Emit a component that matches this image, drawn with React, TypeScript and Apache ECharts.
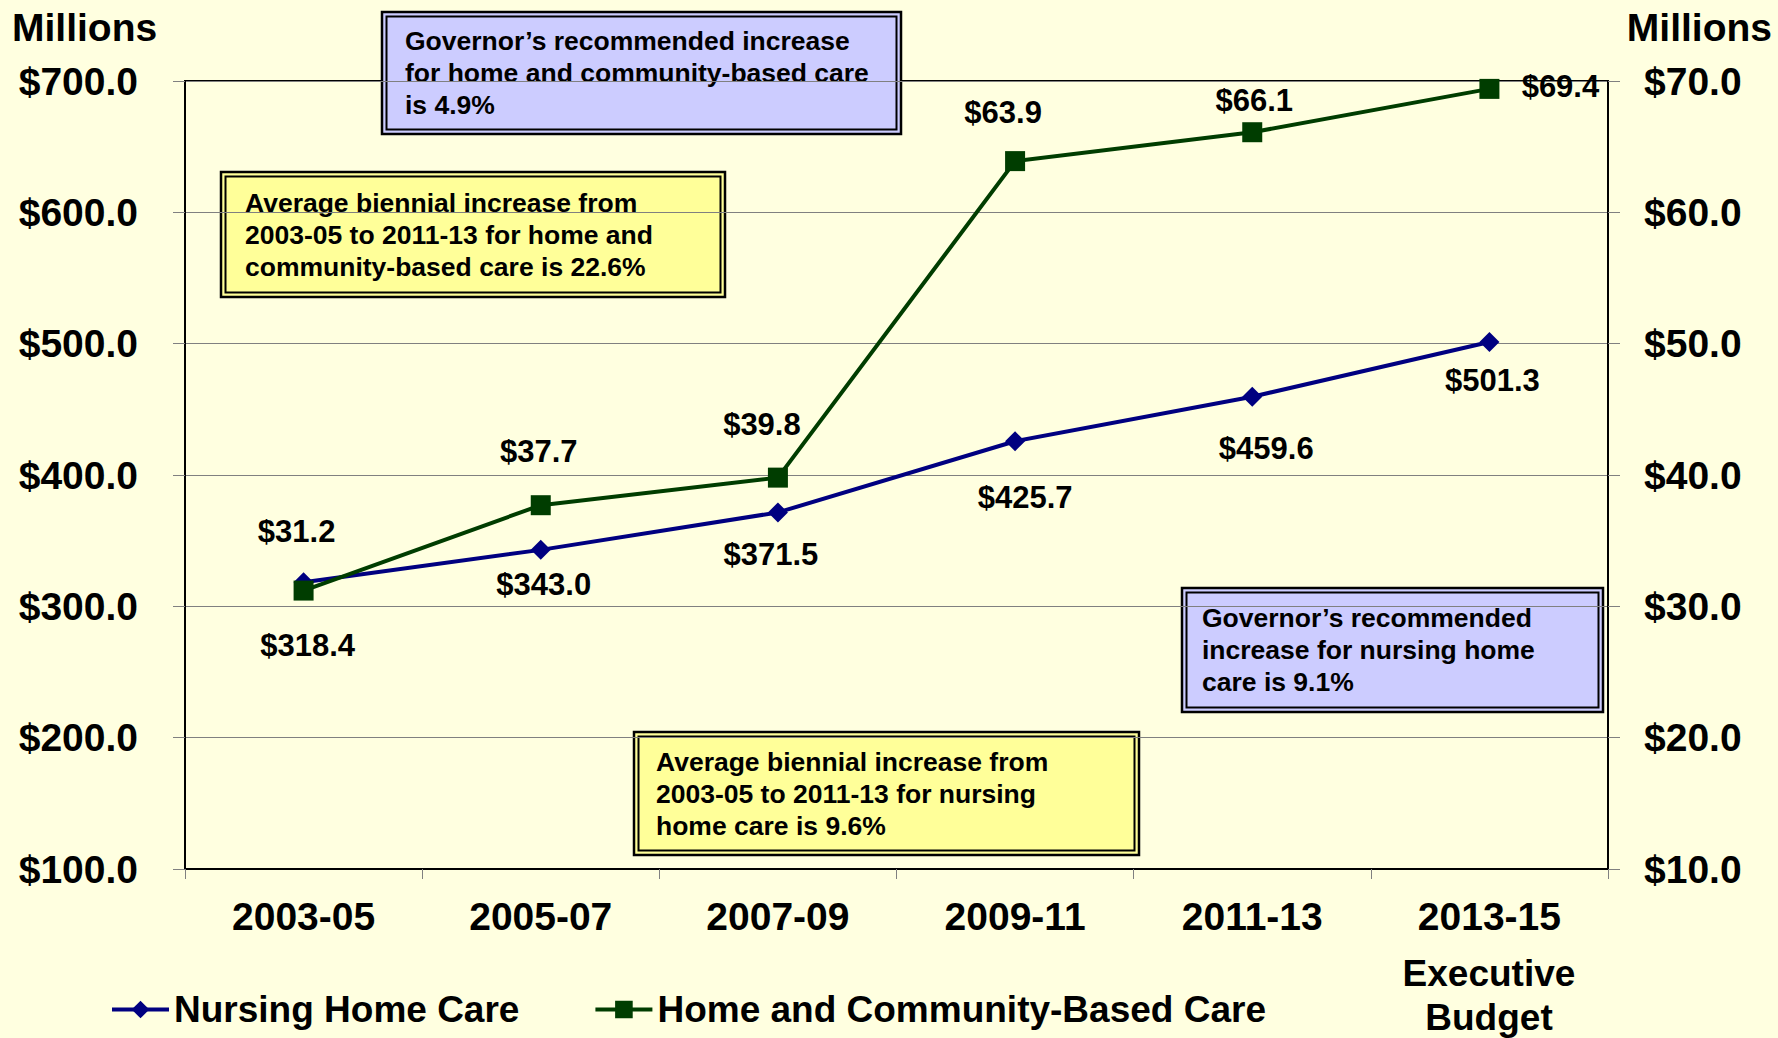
import React, { useEffect, useRef } from "react";
import * as echarts from "echarts";

const categories = ["2003-05", "2005-07", "2007-09", "2009-11", "2011-13", "2013-15"];
const nursingHome = [318.4, 343.0, 371.5, 425.7, 459.6, 501.3];
const communityBased = [31.2, 37.7, 39.8, 63.9, 66.1, 69.4];
const leftAxis = { min: 100, max: 700, interval: 100 };
const rightAxis = { min: 10, max: 70, interval: 10 };

const nursingLabelOffsets = [[4, 63], [3, 35], [-7, 42], [10, 56], [14, 52], [3, 39]];
const communityLabelOffsets = [[-7, -59], [-2, -54], [-16, -53], [-12, -49], [2, -32], [71, -2]];

const FONT = '"Liberation Sans", Arial, sans-serif';
const BG = "#FFFFE0";
const NAVY = "#000080";
const GREEN = "#003D00";

const money = (v: number) => "$" + Number(v).toFixed(1);

function box(x: number, y: number, w: number, h: number, fill: string, lines: string[], tx: number, ty: number) {
  return {
    type: "group",
    z: 50,
    children: [
      { type: "rect", shape: { x, y, width: w, height: h }, style: { fill, stroke: "#000", lineWidth: 2.5 } },
      { type: "rect", shape: { x: x + 4.5, y: y + 4.5, width: w - 9, height: h - 9 }, style: { fill: "none", stroke: "#000", lineWidth: 2 } },
      {
        type: "text",
        x: tx,
        y: ty - 16,
        style: {
          text: lines.join("\n"),
          fill: "#000",
          fontSize: 26.5,
          fontWeight: "bold",
          fontFamily: FONT,
          lineHeight: 32,
          align: "left",
          verticalAlign: "top",
        },
      },
    ],
  };
}

export default function App() {
  const ref = useRef<HTMLDivElement>(null);
  useEffect(() => {
    if (!ref.current) return;
    const chart = echarts.init(ref.current, null, { renderer: "svg" });
    const labelBase = {
      show: true,
      position: "inside",
      formatter: (p: any) => money(p.value),
      fontSize: 31,
      fontWeight: "bold",
      fontFamily: FONT,
      color: "#000",
    };
    chart.setOption({
      animation: false,
      backgroundColor: BG,
      textStyle: { fontFamily: FONT },
      grid: {
        left: 185,
        right: 170,
        top: 81,
        bottom: 169,
        show: true,
        borderColor: "#000",
        borderWidth: 2,
        backgroundColor: "transparent",
      },
      legend: {
        left: 105,
        top: 986,
        itemWidth: 57,
        itemHeight: 22,
        itemGap: 74,
        lineStyle: { width: 4 },
        textStyle: { fontSize: 37, fontWeight: "bold", color: "#000", fontFamily: FONT },
        data: ["Nursing Home Care", "Home and Community-Based Care"],
      },
      xAxis: {
        type: "category",
        data: categories,
        boundaryGap: true,
        axisLine: { show: true, lineStyle: { color: "#000", width: 2 } },
        axisTick: { show: true, length: 10, lineStyle: { color: "#808080", width: 1 } },
        axisLabel: { fontSize: 39, fontWeight: "bold", color: "#000", fontFamily: FONT, margin: 28 },
      },
      yAxis: [
        {
          type: "value",
          position: "left",
          ...leftAxis,
          axisLine: { show: true, lineStyle: { color: "#000", width: 2 } },
          axisTick: { show: true, length: 12, lineStyle: { color: "#808080", width: 1 } },
          splitLine: { show: true, lineStyle: { color: "#808080", width: 1 } },
          axisLabel: { formatter: money, fontSize: 39, fontWeight: "bold", color: "#000", fontFamily: FONT, margin: 47 },
        },
        {
          type: "value",
          position: "right",
          ...rightAxis,
          axisLine: { show: true, lineStyle: { color: "#000", width: 2 } },
          axisTick: { show: true, length: 12, lineStyle: { color: "#808080", width: 1 } },
          splitLine: { show: false },
          axisLabel: { formatter: money, fontSize: 39, fontWeight: "bold", color: "#000", fontFamily: FONT, margin: 36 },
        },
      ],
      series: [
        {
          name: "Nursing Home Care",
          type: "line",
          yAxisIndex: 0,
          symbol: "diamond",
          symbolSize: 20,
          lineStyle: { color: NAVY, width: 4 },
          itemStyle: { color: NAVY },
          label: labelBase,
          data: nursingHome.map((v, i) => ({ value: v, label: { offset: nursingLabelOffsets[i] } })),
        },
        {
          name: "Home and Community-Based Care",
          type: "line",
          yAxisIndex: 1,
          symbol: "rect",
          symbolSize: 20,
          lineStyle: { color: GREEN, width: 4 },
          itemStyle: { color: GREEN },
          label: labelBase,
          data: communityBased.map((v, i) => ({ value: v, label: { offset: communityLabelOffsets[i] } })),
        },
      ],
      graphic: [
        {
          type: "text",
          x: 12,
          y: 27,
          style: { text: "Millions", fontSize: 39, fontWeight: "bold", fontFamily: FONT, fill: "#000", align: "left", verticalAlign: "middle" },
        },
        {
          type: "text",
          x: 1772,
          y: 27,
          style: { text: "Millions", fontSize: 39, fontWeight: "bold", fontFamily: FONT, fill: "#000", align: "right", verticalAlign: "middle" },
        },
        {
          type: "text",
          x: 1489,
          y: 995,
          style: {
            text: "Executive\nBudget",
            fontSize: 37,
            fontWeight: "bold",
            fontFamily: FONT,
            fill: "#000",
            align: "center",
            verticalAlign: "middle",
            lineHeight: 44,
          },
        },
        box(382, 12, 519, 122, "#CCCCFF", [
          "Governor\u2019s recommended increase",
          "for home and community-based care",
          "is 4.9%",
        ], 405, 41),
        box(221, 172, 504, 125, "#FFFF99", [
          "Average biennial increase from",
          "2003-05 to 2011-13 for home and",
          "community-based care is 22.6%",
        ], 245, 203),
        box(1182, 588, 421, 124, "#CCCCFF", [
          "Governor\u2019s recommended",
          "increase for nursing home",
          "care is 9.1%",
        ], 1202, 618),
        box(634, 732, 505, 123, "#FFFF99", [
          "Average biennial increase from",
          "2003-05 to 2011-13 for nursing",
          "home care is 9.6%",
        ], 656, 762),
      ],
    });
    return () => chart.dispose();
  }, []);
  return <div ref={ref} style={{ position: "absolute", left: 0, top: 0, width: 1778, height: 1038 }} />;
}
